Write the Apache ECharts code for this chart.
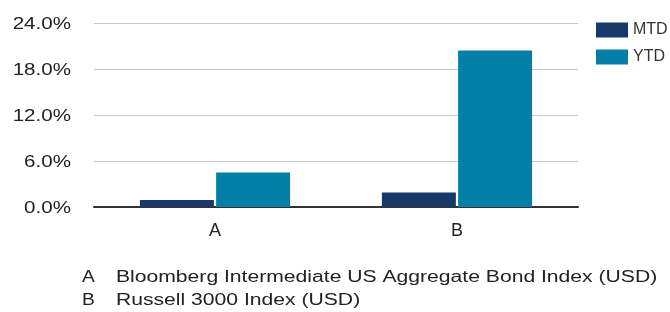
<!DOCTYPE html>
<html>
<head>
<meta charset="utf-8">
<script src="https://cdn.jsdelivr.net/npm/echarts@6/dist/echarts.min.js"></script>
<style>html,body{margin:0;padding:0;background:#fff}#c{width:670px;height:312px}</style>
</head>
<body>
<div id="c"></div>
<script>
const categories = ['A', 'B'];
const seriesNames = ['MTD', 'YTD'];
const mtdValues = [0.9, 1.9];
const ytdValues = [4.5, 20.4];
const yTicks = [0, 6, 12, 18, 24];
const yTickLabels = ['0.0%', '6.0%', '12.0%', '18.0%', '24.0%'];
const footnoteKeys = ['A', 'B'];
const footnoteNames = ['Bloomberg Intermediate US Aggregate Bond Index (USD)', 'Russell 3000 Index (USD)'];
const colors = ['#183A6B', '#047FA8'];

const font = '"Liberation Sans", Arial, sans-serif';
const chart = echarts.init(document.getElementById('c'), null, {renderer: 'canvas'});
chart.setOption({
  animation: false,
  textStyle: {fontFamily: font},
  grid: {left: 94, right: 92, top: 23, bottom: 105, containLabel: false},
  legend: {
    orient: 'vertical', left: 591, top: 17, itemWidth: 32, itemHeight: 15, itemGap: 11,
    icon: 'rect', data: seriesNames,
    textStyle: {fontSize: 16, color: '#333', fontFamily: font}
  },
  xAxis: {
    type: 'category', data: categories,
    axisLine: {lineStyle: {color: '#333', width: 2}},
    axisTick: {show: false},
    axisLabel: {fontSize: 18, color: '#222', margin: 15, fontFamily: font}
  },
  yAxis: {
    type: 'value', min: yTicks[0], max: yTicks[yTicks.length - 1], interval: yTicks[1] - yTicks[0],
    axisLine: {show: false}, axisTick: {show: false},
    splitLine: {lineStyle: {color: '#c8c8c8', width: 1}},
    axisLabel: {show: false}
  },
  series: [
    {name: seriesNames[0], type: 'bar', data: mtdValues, barWidth: 74, barGap: '3%', itemStyle: {color: colors[0]}},
    {name: seriesNames[1], type: 'bar', data: ytdValues, barWidth: 74, itemStyle: {color: colors[1]}}
  ]
});

const graphics = [];
yTicks.forEach((v, i) => {
  const py = chart.convertToPixel({yAxisIndex: 0}, v);
  graphics.push({type: 'text', x: 71, y: py + 1, scaleX: 1.21, silent: true,
    style: {text: yTickLabels[i], font: '17px ' + font, fill: '#222', textAlign: 'right', textVerticalAlign: 'middle'}});
});
footnoteKeys.forEach((k, i) => {
  graphics.push({type: 'text', x: 82, y: 278 + i * 23, scaleX: 1.2, silent: true,
    style: {text: k, font: '16px ' + font, fill: '#222', textVerticalAlign: 'middle'}});
  graphics.push({type: 'text', x: 116, y: 278 + i * 23, scaleX: 1.32, silent: true,
    style: {text: footnoteNames[i], font: '16px ' + font, fill: '#222', textVerticalAlign: 'middle'}});
});
chart.setOption({graphic: graphics});
</script>
</body>
</html>
